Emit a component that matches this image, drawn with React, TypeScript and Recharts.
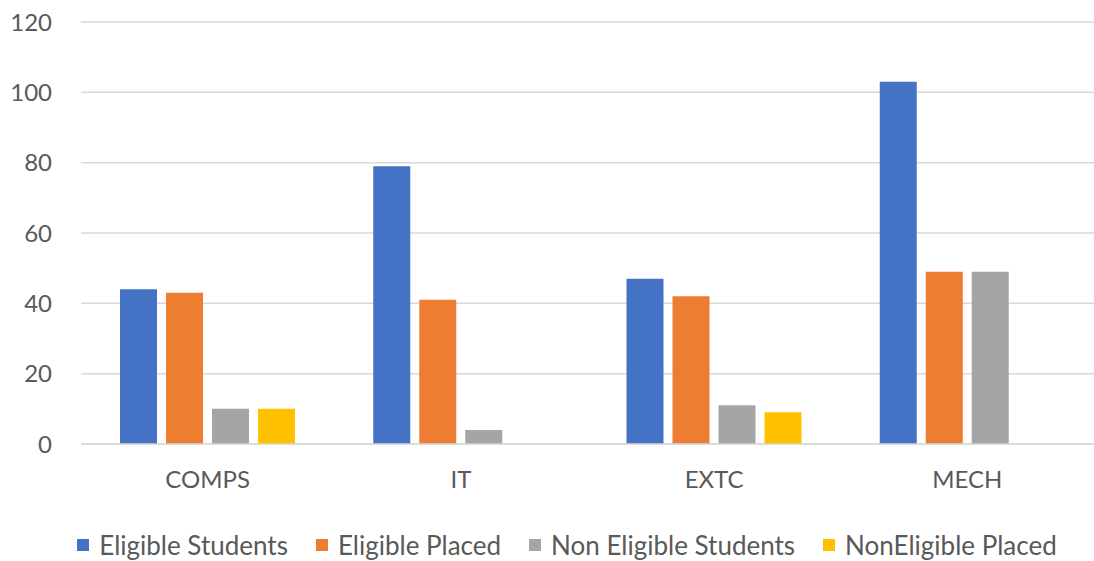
import { Bar, BarChart, CartesianGrid, Legend, XAxis, YAxis } from "recharts";

const branches = ["COMPS", "IT", "EXTC", "MECH"];
const eligibleStudents = [44, 79, 47, 103];
const eligiblePlaced = [43, 41, 42, 49];
const nonEligibleStudents = [10, 4, 11, 49];
const nonEligiblePlaced = [10, 0, 9, 0];
const yTicks = [0, 20, 40, 60, 80, 100, 120];

const series = [
  { key: "eligibleStudents", name: "Eligible Students", color: "#4472C4" },
  { key: "eligiblePlaced", name: "Eligible Placed", color: "#ED7D31" },
  { key: "nonEligibleStudents", name: "Non Eligible Students", color: "#A5A5A5" },
  { key: "nonEligiblePlaced", name: "NonEligible Placed", color: "#FFC000" },
];

const data = branches.map((branch, i) => ({
  branch,
  eligibleStudents: eligibleStudents[i],
  eligiblePlaced: eligiblePlaced[i],
  nonEligibleStudents: nonEligibleStudents[i],
  nonEligiblePlaced: nonEligiblePlaced[i],
}));

const font = "Lato, 'Open Sans', sans-serif";

function renderLegend() {
  return (
    <div
      style={{
        display: "flex",
        justifyContent: "center",
        gap: 28,
        fontFamily: font,
        fontSize: 26,
        lineHeight: "30px",
        color: "#595959",
        paddingLeft: 40,
        marginTop: 16,
      }}
    >
      {series.map((s) => (
        <span key={s.key} style={{ display: "flex", alignItems: "center" }}>
          <span
            style={{
              display: "inline-block",
              width: 12,
              height: 12,
              background: s.color,
              marginRight: 10,
            }}
          />
          {s.name}
        </span>
      ))}
    </div>
  );
}

export default function App() {
  return (
    <div style={{ position: "absolute", left: 0, top: 0, background: "#fff" }}>
      <BarChart
        width={1094}
        height={561}
        data={data}
        margin={{ top: 22, right: 0, bottom: 0, left: 0 }}
        barCategoryGap="15.5%"
        barGap={9}
      >
        <CartesianGrid stroke="#d9d9d9" strokeWidth={1.5} vertical={false} />
        <XAxis
          dataKey="branch"
          axisLine={{ stroke: "#d9d9d9", strokeWidth: 1.5 }}
          tickLine={false}
          tickSize={0}
          tickMargin={27}
          height={70}
          tick={{ fill: "#595959", fontSize: 24, fontFamily: font }}
        />
        <YAxis
          domain={[0, 120]}
          ticks={yTicks}
          axisLine={false}
          tickLine={false}
          tickSize={0}
          tickMargin={29}
          width={81}
          tick={{ fill: "#595959", fontSize: 24, fontFamily: font }}
        />
        <Legend verticalAlign="bottom" height={47} content={renderLegend} />
        {series.map((s) => (
          <Bar
            key={s.key}
            dataKey={s.key}
            name={s.name}
            fill={s.color}
            barSize={37}
            isAnimationActive={false}
          />
        ))}
      </BarChart>
    </div>
  );
}
